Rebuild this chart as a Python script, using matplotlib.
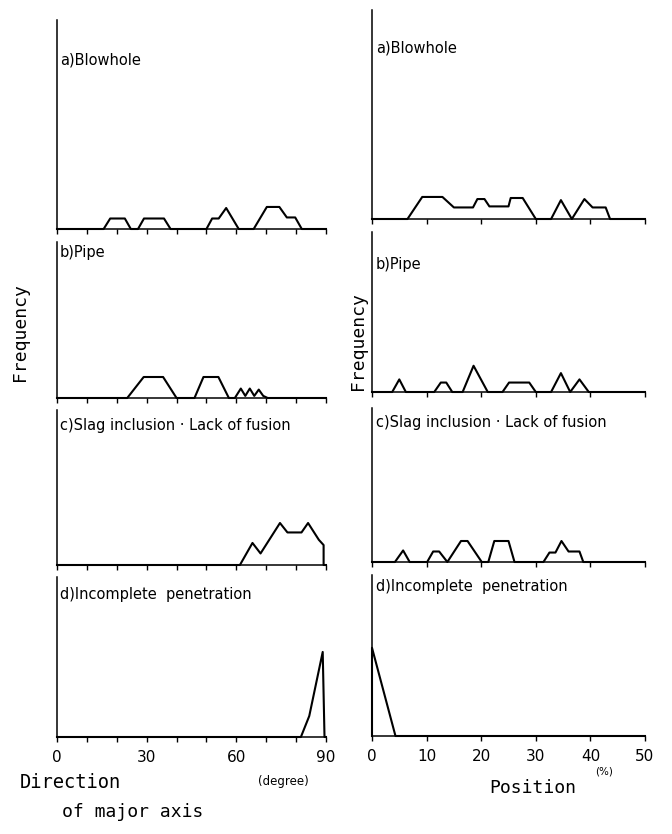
import matplotlib
matplotlib.use("Agg")
import matplotlib.pyplot as plt

# --- data (frequency polygons, arbitrary count units) ---
# left column: direction of major axis (degree)
dir_a_x = [0, 15.6, 17.8, 22.7, 24.7, 27.1, 29.1, 35.8, 38.0, 50.0, 51.9, 54.1, 56.6, 60.8,
           65.8, 70.2, 74.4, 76.9, 79.7, 81.9, 90]
dir_a_y = [0, 0, 1, 1, 0, 0, 1, 1, 0, 0, 1, 1, 2, 0, 0, 2.1, 2.1, 1.1, 1.1, 0, 0]

dir_b_x = [0, 23.5, 29, 35.5, 40, 46, 49, 54, 57.5, 59.5, 61.5, 63, 64.5, 66, 67.5, 69, 70.5, 90]
dir_b_y = [0, 0, 2, 2, 0, 0, 2, 2, 0, 0, 0.9, 0.2, 0.9, 0.2, 0.8, 0.2, 0, 0]

dir_c_x = [0, 61.2, 65.4, 68.1, 74.6, 77.1, 81.8, 84.0, 87.6, 89.2, 89.2, 90]
dir_c_y = [0, 0, 2.1, 1.1, 4.0, 3.1, 3.1, 4.0, 2.4, 1.9, 0, 0]

dir_d_x = [0, 81.6, 84.4, 88.9, 89.5, 90]
dir_d_y = [0, 0, 2.0, 8.1, 0, 0]

# right column: position (%)
pos_a_x = [0, 6.5, 9.2, 12.9, 15.0, 18.5, 19.3, 20.6, 21.5, 25.0, 25.4, 27.6, 30.0,
           32.8, 34.6, 36.6, 38.9, 40.4, 42.8, 43.6, 50]
pos_a_y = [0, 0, 2.1, 2.1, 1.1, 1.1, 1.9, 1.9, 1.2, 1.2, 2.0, 2.0, 0,
           0, 1.8, 0, 1.9, 1.1, 1.1, 0, 0]

pos_b_x = [0, 3.7, 5.0, 6.2, 11.4, 12.6, 13.6, 14.7, 16.6, 18.6, 21.2, 23.9, 25.1, 28.8, 30.0,
           32.8, 34.6, 36.3, 38.0, 39.7, 50]
pos_b_y = [0, 0, 1.2, 0, 0, 0.9, 0.9, 0, 0, 2.5, 0, 0, 0.9, 0.9, 0,
           0, 1.8, 0, 1.2, 0, 0]

pos_c_x = [0, 4.2, 5.7, 6.9, 10.1, 11.2, 12.3, 13.8, 16.3, 17.5, 20.1, 21.3, 22.4, 25.0, 26.1,
           31.4, 32.5, 33.6, 34.7, 36.0, 38.0, 38.7, 50]
pos_c_y = [0, 0, 1.1, 0, 0, 1.0, 1.0, 0, 2.0, 2.0, 0, 0, 2.0, 2.0, 0,
           0, 0.9, 0.9, 2.0, 1.0, 1.0, 0, 0]

pos_d_x = [0, 0, 4.3, 50]
pos_d_y = [0, 8.4, 0, 0]

panel_labels = ["a)Blowhole", "b)Pipe", "c)Slag inclusion \u00b7 Lack of fusion",
                "d)Incomplete  penetration"]

W, H = 672, 834
UNIT = 10.5  # pixels per count unit


def add_axes(fig, left, right, top, bottom):
    return fig.add_axes([left / W, 1 - bottom / H, (right - left) / W, (bottom - top) / H])


def style(ax, xmax, ticks, labels, show_labels, height_px):
    ax.set_xlim(0, xmax)
    ax.set_ylim(0, height_px / UNIT)
    for s in ["top", "right"]:
        ax.spines[s].set_visible(False)
    ax.spines["left"].set_linewidth(1.1)
    ax.spines["bottom"].set_linewidth(1.1)
    ax.set_yticks([])
    ax.set_xticks(ticks)
    ax.tick_params(axis="x", direction="out", length=3.5, width=1.0, pad=6, labelsize=11)
    if show_labels:
        ax.set_xticklabels(labels)
    else:
        ax.set_xticklabels([])
    ax.patch.set_alpha(0)


fig = plt.figure(figsize=(W / 100, H / 100), dpi=100)

left_data = [(dir_a_x, dir_a_y), (dir_b_x, dir_b_y), (dir_c_x, dir_c_y), (dir_d_x, dir_d_y)]
right_data = [(pos_a_x, pos_a_y), (pos_b_x, pos_b_y), (pos_c_x, pos_c_y), (pos_d_x, pos_d_y)]

left_rows = [(20, 229), (242, 398), (410, 565), (577, 737)]
right_rows = [(10, 219), (232, 392), (408, 562), (575, 736)]

left_label_y = [60, 252, 425, 595]
right_label_y = [48, 265, 423, 586]

deg_ticks = list(range(0, 91, 10))
deg_labels = ["0", "", "", "30", "", "", "60", "", "", "90"]
pos_ticks = list(range(0, 51, 10))
pos_labels = [str(t) for t in pos_ticks]

for i in range(4):
    top, bot = left_rows[i]
    ax = add_axes(fig, 57, 326, top, bot)
    x, y = left_data[i]
    ax.plot(x, y, color="black", lw=1.5, clip_on=False)
    style(ax, 90, deg_ticks, deg_labels, i == 3, bot - top)
    fig.text(60 / W, 1 - left_label_y[i] / H, panel_labels[i], fontsize=10.5,
             va="center", ha="left")

    top, bot = right_rows[i]
    ax = add_axes(fig, 372, 645, top, bot)
    x, y = right_data[i]
    ax.plot(x, y, color="black", lw=1.5, clip_on=False)
    style(ax, 50, pos_ticks, pos_labels, i == 3, bot - top)
    fig.text(376 / W, 1 - right_label_y[i] / H, panel_labels[i], fontsize=10.5,
             va="center", ha="left")

mono = "DejaVu Sans Mono"
fig.text(20 / W, 1 - 332 / H, "Frequency", family=mono, fontsize=13, rotation=90,
         va="center", ha="center")
fig.text(358 / W, 1 - 341 / H, "Frequency", family=mono, fontsize=13, rotation=90,
         va="center", ha="center")
fig.text(20 / W, 1 - 783 / H, "Direction", family=mono, fontsize=13.5, va="center", ha="left")
fig.text(62 / W, 1 - 812 / H, "of major axis", family=mono, fontsize=13, va="center", ha="left")
fig.text(283 / W, 1 - 781 / H, "(degree)", fontsize=8.5, va="center", ha="center")
fig.text(533 / W, 1 - 788 / H, "Position", family=mono, fontsize=13, va="center", ha="center")
fig.text(604 / W, 1 - 772 / H, "(%)", fontsize=7.5, va="center", ha="center")

fig.savefig("out.png", dpi=100, facecolor="white")
